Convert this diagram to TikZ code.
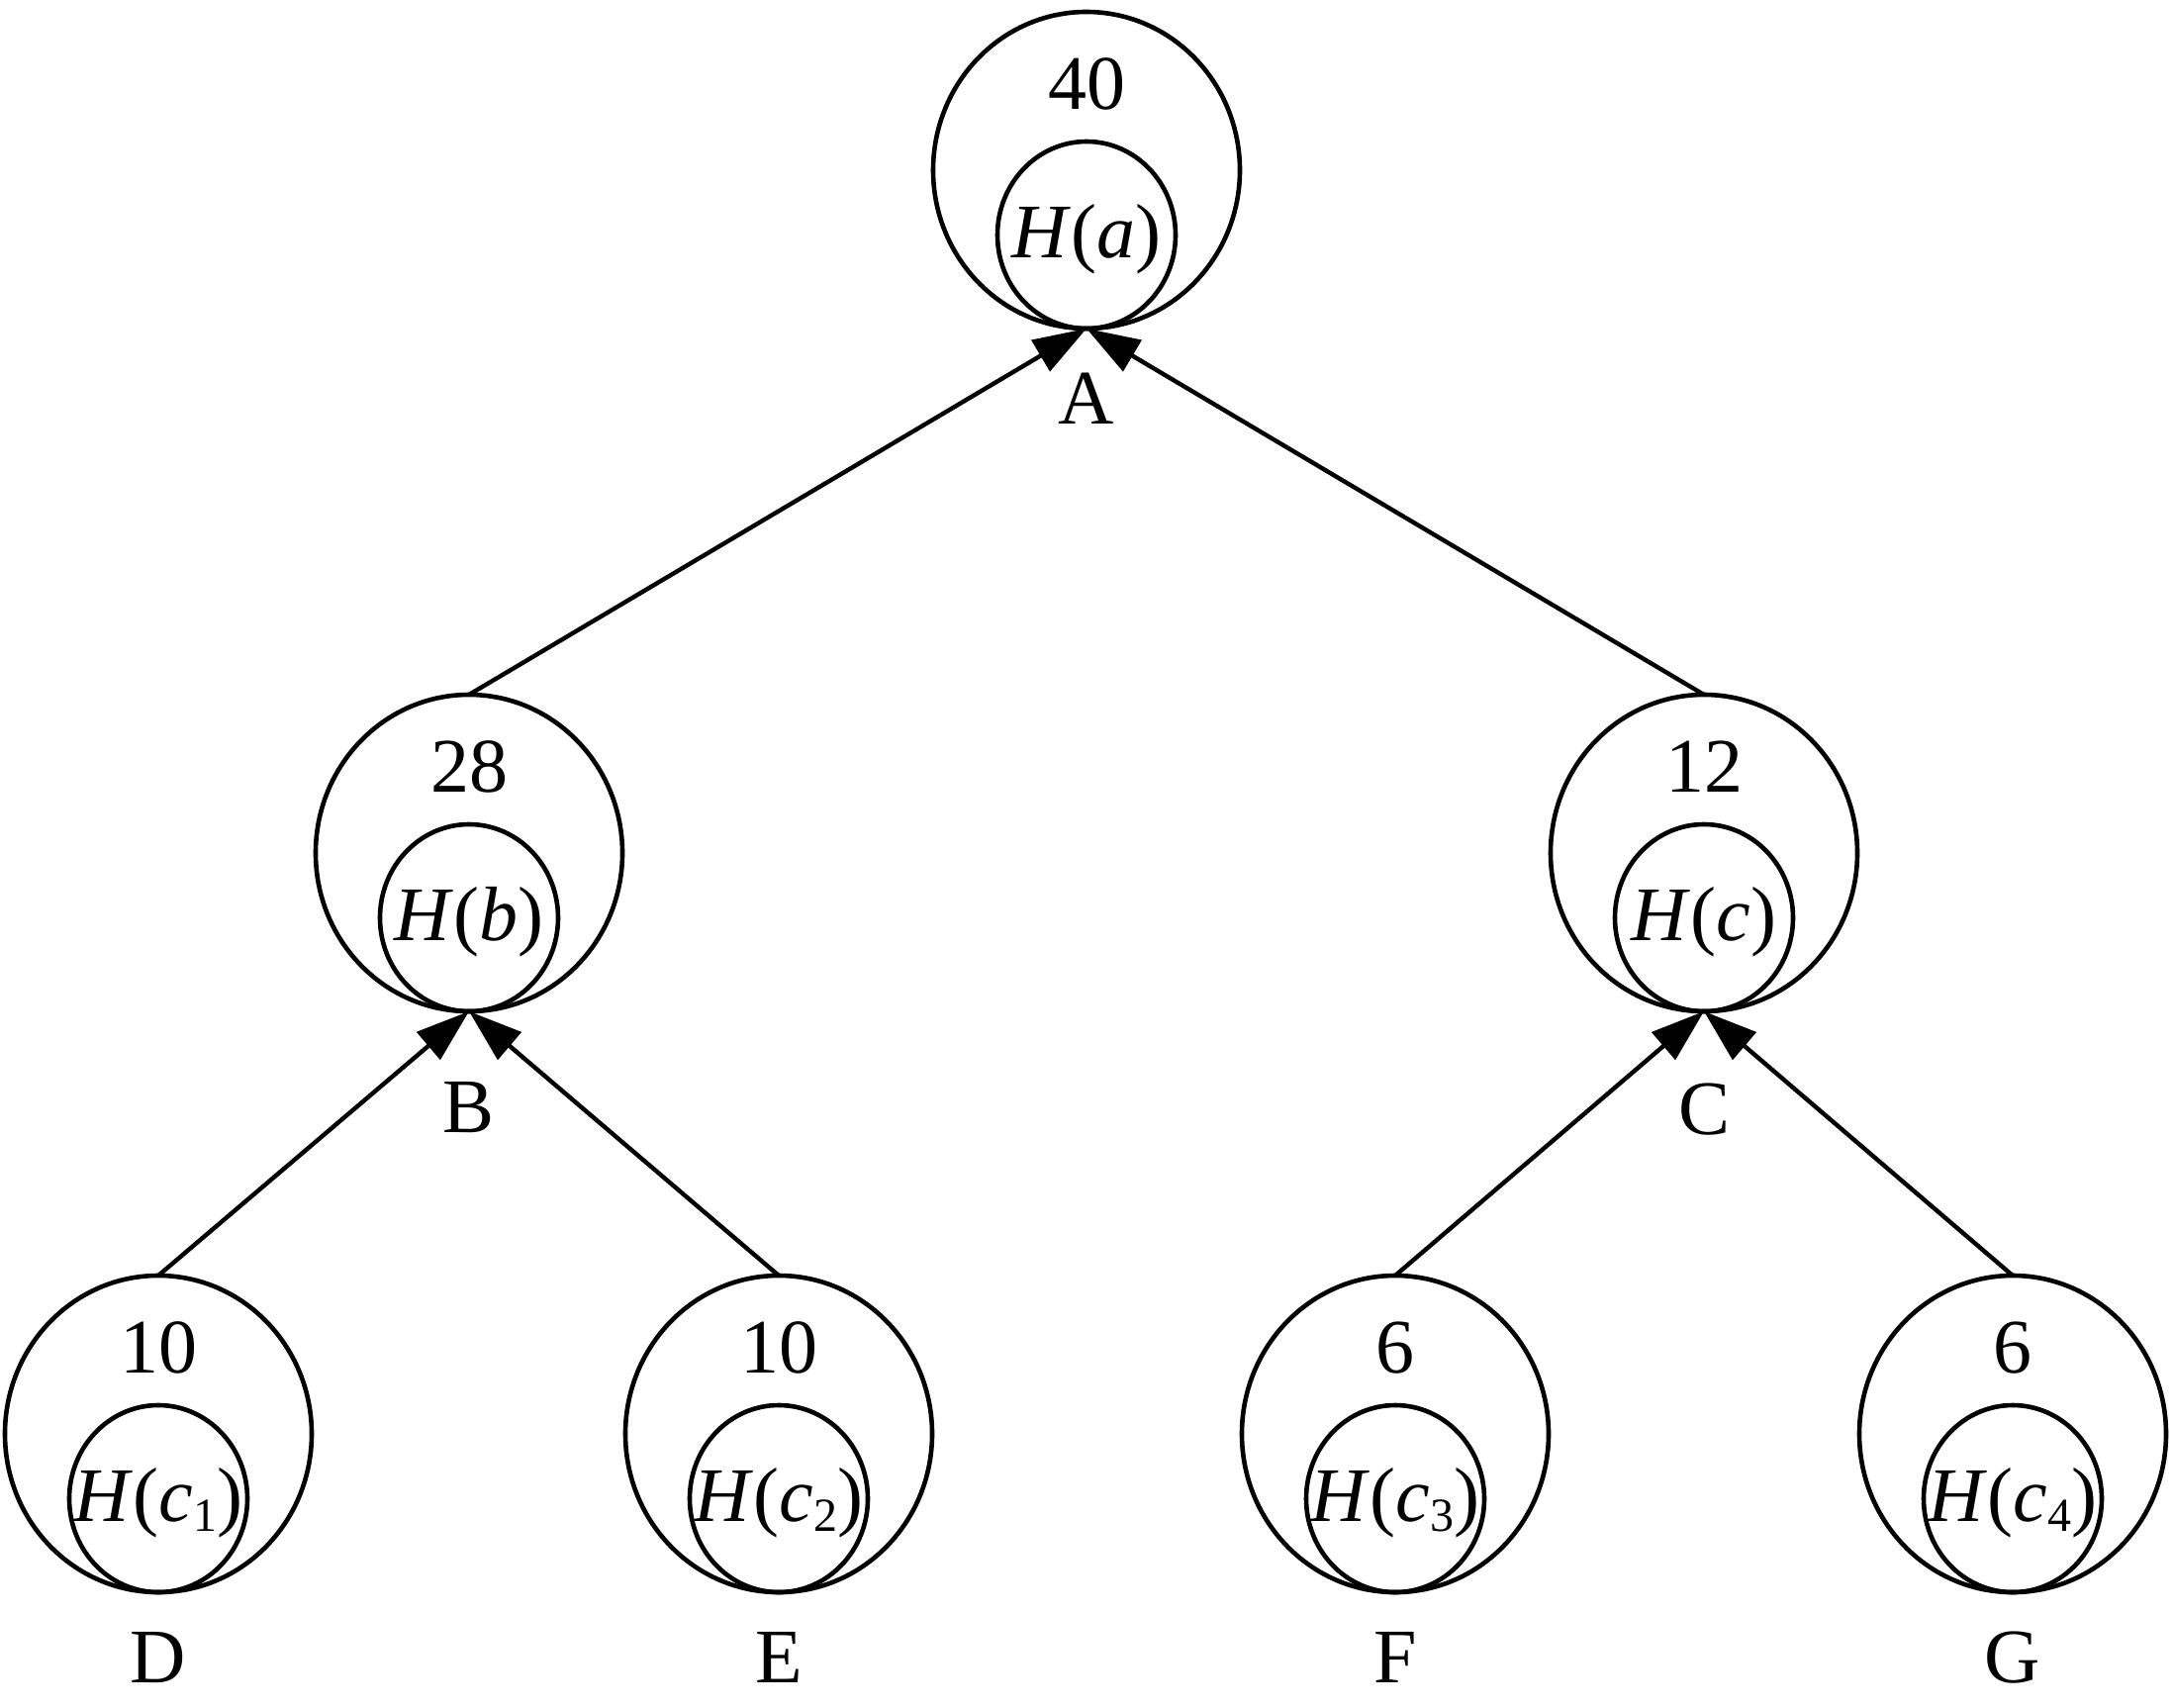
\documentclass[tikz,border=0pt]{standalone}
\usepackage{fontspec}
\setmainfont{Liberation Serif}
\usetikzlibrary{shapes.geometric,arrows.meta}
\newcommand{\subnum}[1]{\raisebox{-5pt}{\fontsize{24}{24}\selectfont #1}}
\newcommand{\treenode}[7]{%
  \node[outerc] (#1o) at (#2,#3) {};
  \node[innerc] (#1i) at (#2,#3+65.5) {};
  \node[txt] (#1v) at (#2,#3-62) {#4};
  \node[txt] (#1h) at (#2,#3+88) {#5};
  \node[txt] (#1l) at (#2,#7) {#6};
}
\begin{document}
\begin{tikzpicture}[x=0.5pt,y=-0.5pt,
  outerc/.style={ellipse, draw, line width=2.3pt, inner sep=0pt, outer sep=0pt,
    minimum width=155pt, minimum height=160pt},
  innerc/.style={ellipse, draw, line width=2.3pt, inner sep=0pt, outer sep=0pt,
    minimum width=90pt, minimum height=94.5pt},
  txt/.style={anchor=base, inner sep=0pt, font=\fontsize{39}{40}\selectfont},
  arr/.style={line width=2.2pt, -{Triangle[length=27pt,width=18pt]}}]
\useasboundingbox (0,0) rectangle (2196,1725);
\treenode{A}{1098}{172}{40}{\textit{H}(\textit{a})}{A}{428}
\treenode{B}{474}{862}{28}{\textit{H}(\textit{b})}{B}{1144}
\treenode{C}{1722}{862}{12}{\textit{H}(\textit{c})}{C}{1146}
\treenode{D}{160}{1449}{10}{\textit{H}(\textit{c}\subnum{1})}{D}{1700}
\treenode{E}{787}{1449}{10}{\textit{H}(\textit{c}\subnum{2})}{E}{1700}
\treenode{F}{1410}{1449}{6}{\textit{H}(\textit{c}\subnum{3})}{F}{1700}
\treenode{G}{2034}{1449}{6}{\textit{H}(\textit{c}\subnum{4})}{G}{1700}
\draw[arr] (Bo.north) -- (Ao.south);
\draw[arr] (Co.north) -- (Ao.south);
\draw[arr] (Do.north) -- (Bo.south);
\draw[arr] (Eo.north) -- (Bo.south);
\draw[arr] (Fo.north) -- (Co.south);
\draw[arr] (Go.north) -- (Co.south);
\end{tikzpicture}
\end{document}
